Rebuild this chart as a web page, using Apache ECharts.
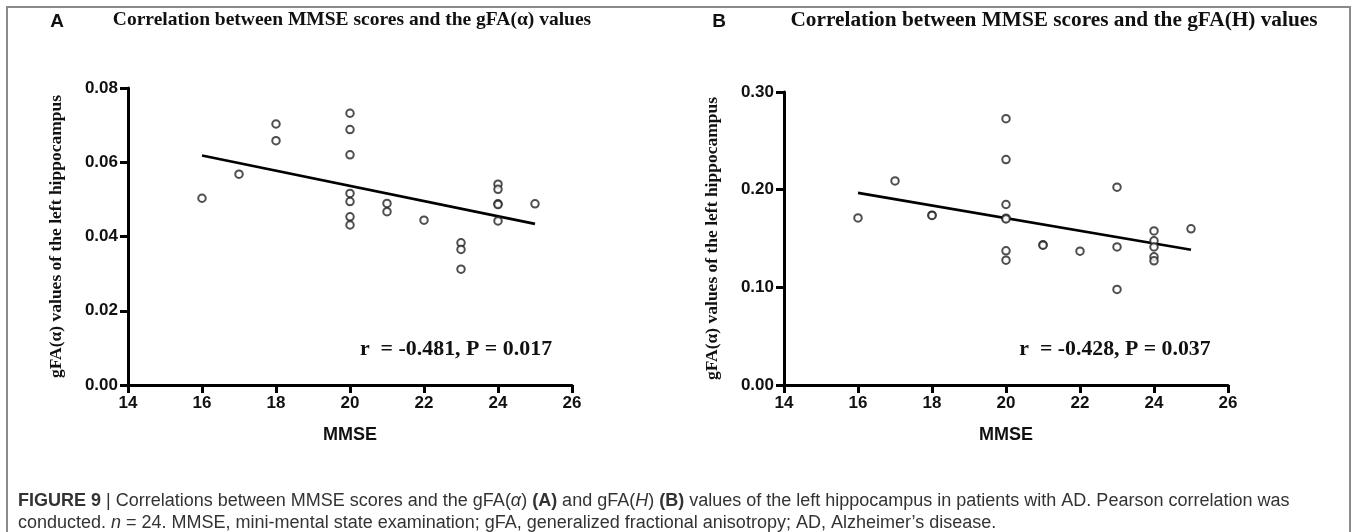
<!DOCTYPE html>
<html>
<head>
<meta charset="utf-8">
<script src="https://cdn.jsdelivr.net/npm/echarts@6/dist/echarts.min.js"></script>
<style>
  html, body { margin: 0; padding: 0; background: #fff; }
  #chart { width: 1357px; height: 532px; }
</style>
</head>
<body>
<div id="chart"></div>
<script>
// MMSE scores of the AD patients and the two left-hippocampus gFA measures
const mmseA = [16, 17, 18, 18, 20, 20, 20, 20, 20, 20, 20, 21, 21, 22, 23, 23, 23, 24, 24, 24, 24, 24, 25];
const gfaAlpha = [0.0503, 0.0568, 0.0703, 0.0658, 0.0732, 0.0688, 0.0620, 0.0516, 0.0494, 0.0453, 0.0431,
                  0.0489, 0.0467, 0.0444, 0.0383, 0.0365, 0.0312, 0.0541, 0.0527, 0.0488, 0.0486, 0.0442, 0.0488];

const mmseB = [16, 17, 18, 18, 20, 20, 20, 20, 20, 20, 20, 21, 21, 22, 23, 23, 23, 24, 24, 24, 24, 24, 25];
const gfaH = [0.1711, 0.2090, 0.1739, 0.1736, 0.2727, 0.2308, 0.1848, 0.1708, 0.1700, 0.1374, 0.1278,
              0.1435, 0.1432, 0.1370, 0.2025, 0.1414, 0.0979, 0.1578, 0.1476, 0.1414, 0.1312, 0.1271, 0.1599];

// Least-squares fit lines, start and end at the observed MMSE range
const fitA = [[16, 0.0618], [25, 0.0434]];
const fitB = [[16, 0.1967], [25, 0.1384]];

// Axis tick settings
const xTicks = { min: 14, max: 26, interval: 2 };
const yTicksA = { min: 0, max: 0.08, interval: 0.02 };
const yTicksB = { min: 0, max: 0.30, interval: 0.10 };

const titles = [
  'Correlation between MMSE scores and the gFA(\u03b1) values',
  'Correlation between MMSE scores and the gFA(H) values'
];
const statsText = ['r  = -0.481, P = 0.017', 'r  = -0.428, P = 0.037'];
const yName = 'gFA(\u03b1) values of the left hippocampus';
const xName = 'MMSE';

const serif = '"Liberation Serif", "DejaVu Serif", serif';
const sans = '"Liberation Sans", Arial, sans-serif';

function pairs(xs, ys) { return xs.map((x, i) => [x, ys[i]]); }

function xAxisCfg(idx) {
  return {
    type: 'value', gridIndex: idx,
    min: xTicks.min, max: xTicks.max, interval: xTicks.interval,
    name: xName, nameLocation: 'middle', nameGap: 41,
    nameTextStyle: { fontFamily: sans, fontWeight: 'bold', fontSize: 18, color: '#111' },
    axisLine: { lineStyle: { color: '#000', width: 3 } },
    axisTick: { show: true, length: 8, lineStyle: { color: '#000', width: 3 } },
    axisLabel: { fontFamily: sans, fontWeight: 'bold', fontSize: 17, color: '#111', margin: 10 },
    splitLine: { show: false }
  };
}

function yAxisCfg(idx, t, decimals) {
  return {
    type: 'value', gridIndex: idx,
    min: t.min, max: t.max, interval: t.interval,
    name: yName, nameLocation: 'middle', nameGap: 63, nameRotate: 90,
    nameTextStyle: { fontFamily: serif, fontWeight: 'bold', fontSize: 17.5, color: '#111' },
    axisLine: { show: true, lineStyle: { color: '#000', width: 3 } },
    axisTick: { show: true, length: 8, lineStyle: { color: '#000', width: 3 } },
    axisLabel: {
      fontFamily: sans, fontWeight: 'bold', fontSize: 17, color: '#111', margin: 10,
      formatter: v => v.toFixed(decimals)
    },
    splitLine: { show: false }
  };
}

function scatterCfg(idx, data) {
  return {
    type: 'scatter', xAxisIndex: idx, yAxisIndex: idx, data: data,
    symbol: 'emptyCircle', symbolSize: 7.5,
    itemStyle: { color: '#222', borderColor: '#222', borderWidth: 1.2 },
    z: 3
  };
}

function fitCfg(idx, data) {
  return {
    type: 'line', xAxisIndex: idx, yAxisIndex: idx, data: data,
    showSymbol: false, symbol: 'none',
    lineStyle: { color: '#000', width: 2.6 },
    z: 2
  };
}

const chart = echarts.init(document.getElementById('chart'), null, { renderer: 'canvas' });

const captionLine1 = '{b|FIGURE 9} | Correlations between MMSE scores and the gFA({i|\u03b1}) {b|(A)} and gFA({i|H}) {b|(B)} values of the left hippocampus in patients with AD. Pearson correlation was';
const captionLine2 = 'conducted. {i|n} = 24. MMSE, mini-mental state examination; gFA, generalized fractional anisotropy; AD, Alzheimer\u2019s disease.';
const capFont = '"Liberation Sans", Arial, sans-serif';
const capSize = 18;
const capRich = {
  b: { fontFamily: capFont, fontWeight: 'bold', fontSize: capSize, color: '#333' },
  i: { fontFamily: capFont, fontStyle: 'italic', fontSize: capSize, color: '#333' }
};

chart.setOption({
  animation: false,
  backgroundColor: '#fff',
  grid: [
    { left: 128, top: 88, width: 444, height: 297 },
    { left: 784, top: 92, width: 444, height: 293 }
  ],
  xAxis: [xAxisCfg(0), xAxisCfg(1)],
  yAxis: [yAxisCfg(0, yTicksA, 2), yAxisCfg(1, yTicksB, 2)],
  series: [
    fitCfg(0, fitA),
    scatterCfg(0, pairs(mmseA, gfaAlpha)),
    fitCfg(1, fitB),
    scatterCfg(1, pairs(mmseB, gfaH))
  ],
  graphic: [
    // outer frame
    { type: 'rect', shape: { x: 7, y: 7, width: 1343, height: 540 },
      style: { fill: 'none', stroke: '#8a8a8a', lineWidth: 2 }, silent: true },
    // panel letters
    { type: 'text', x: 57, y: 22, style: { text: 'A', font: 'bold 19px ' + sans, fill: '#111', align: 'center', verticalAlign: 'middle' } },
    { type: 'text', x: 719, y: 22, style: { text: 'B', font: 'bold 19px ' + sans, fill: '#111', align: 'center', verticalAlign: 'middle' } },
    // panel titles
    { type: 'text', x: 352, y: 20, style: { text: titles[0], font: 'bold 19.5px ' + serif, fill: '#111', align: 'center', verticalAlign: 'middle' } },
    { type: 'text', x: 1054, y: 20, style: { text: titles[1], font: 'bold 21.3px ' + serif, fill: '#111', align: 'center', verticalAlign: 'middle' } },
    // correlation statistics
    { type: 'text', x: 456, y: 349, style: { text: statsText[0], font: 'bold 21.9px ' + serif, fill: '#111', align: 'center', verticalAlign: 'middle' } },
    { type: 'text', x: 1115, y: 349, style: { text: statsText[1], font: 'bold 21.8px ' + serif, fill: '#111', align: 'center', verticalAlign: 'middle' } },
    // figure caption
    { type: 'text', x: 18, y: 501, style: { text: captionLine1, font: capSize + 'px ' + capFont, fill: '#333', verticalAlign: 'middle', rich: capRich } },
    { type: 'text', x: 18, y: 523, style: { text: captionLine2, font: capSize + 'px ' + capFont, fill: '#333', verticalAlign: 'middle', rich: capRich } }
  ]
});
</script>
</body>
</html>
